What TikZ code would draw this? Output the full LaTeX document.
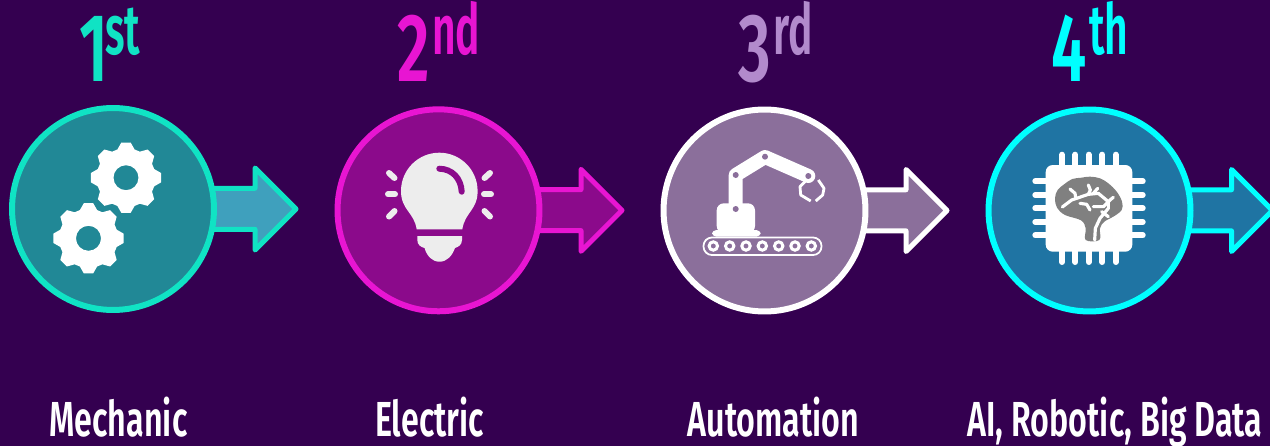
\documentclass[tikz,border=0pt]{standalone}
\usepackage{fontspec}
\newfontfamily\etroite[FakeStretch=0.655]{Fira Sans SemiBold}
\newfontfamily\etroitexp[FakeStretch=0.58]{Fira Sans SemiBold}
\definecolor{fond}{HTML}{340050}
\definecolor{vert}{HTML}{10E3C4}
\definecolor{vertfonce}{HTML}{218896}
\definecolor{bleuclair}{HTML}{3FA0BD}
\definecolor{rose}{HTML}{E815D2}
\definecolor{prune}{HTML}{8B0A8B}
\definecolor{mauve}{HTML}{8B6F9B}
\definecolor{lilas}{HTML}{B28ACC}
\definecolor{cyan}{HTML}{00FFFF}
\definecolor{bleu}{HTML}{1F74A3}
\newcommand{\roue}[2]{%
  \fill[white,even odd rule,shift={(#1,#2)}] (-17:29.5)
    \foreach \a in {0,45,...,315} {
      -- (\a-17:29.5) -- (\a-7.5:35.5) -- (\a+7.5:35.5) -- (\a+17:29.5)
    } -- cycle (0,0) circle (12.5);
}
\begin{document}
\begin{tikzpicture}[
      x=0.02cm,
      y=-0.02cm,
      etape/.style={
        draw,
        circle,
        line width=0.12cm,
        minimum size=4.04cm,
        inner sep=0pt,
        outer sep=0pt
      },
      fleche/.style={
        draw,
        line width=0.1cm,
        line join=round
      },
      chiffre/.style={
        anchor=base west,
        inner sep=0pt,
        font=\etroite\fontsize{55}{55}\selectfont
      },
      exposant/.style={
        anchor=base west,
        inner sep=0pt,
        xshift=1pt,
        yshift=15.6pt,
        font=\etroitexp\fontsize{40}{40}\selectfont
      },
      titre/.style={
        anchor=base,
        text=white,
        inner sep=0pt,
        font=\etroite\fontsize{28}{28}\selectfont
      },
      rayon/.style={
        draw=white!93!black,
        line width=0.12cm,
        line cap=round
      },
      patte/.style={
        draw=white,
        line width=0.12cm,
        line cap=round
      },
      bras/.style={
        draw=white,
        line width=0.28cm,
        line join=round,
        line cap=round
      },
      nerf/.style={
        draw=white,
        line width=1.8pt,
        line cap=round,
        line join=round
      }
    ]
    \fill[fond] (0,0) rectangle (1270,446);
    \useasboundingbox (0,0) rectangle (1270,446);

    \draw[fleche, draw=vert, fill=bleuclair] (200,188.3) -- (255,188.3) -- (255,168) -- (296,209) -- (255,250) -- (255,229.3) -- (200,229.3) -- cycle;
    \draw[fleche, draw=rose, fill=prune] (526,189.6) -- (581,189.6) -- (581,169.3) -- (622,210.3) -- (581,251.3) -- (581,230.6) -- (526,230.6) -- cycle;
    \draw[fleche, draw=white, fill=mauve] (851,189.8) -- (906,189.8) -- (906,169.5) -- (947,210.5) -- (906,251.5) -- (906,230.8) -- (851,230.8) -- cycle;
    \draw[fleche, draw=cyan, fill=bleu] (1176,189.8) -- (1231.5,189.8) -- (1231.5,169.5) -- (1272.5,210.5) -- (1231.5,251.5) -- (1231.5,230.8) -- (1176,230.8) -- cycle;

    \node[etape, draw=vert, fill=vertfonce] (e1) at (113,209) {};
    \node[etape, draw=rose, fill=prune] (e2) at (438.5,210.3) {};
    \node[etape, draw=white, fill=mauve] (e3) at (764.5,210.5) {};
    \node[etape, draw=cyan, fill=bleu] (e4) at (1089.5,210.5) {};

    \node[chiffre, text=vert] (c1) at (79,82) {1};
    \node[exposant, text=vert, xshift=-3pt] (s1) at (c1.base east) {st};
    \node[chiffre, text=rose] (c2) at (397,82) {2};
    \node[exposant, text=rose] (s2) at (c2.base east) {nd};
    \node[chiffre, text=lilas] (c3) at (738,82) {3};
    \node[exposant, text=lilas] (s3) at (c3.base east) {rd};
    \node[chiffre, text=cyan] (c4) at (1051,82) {4};
    \node[exposant, text=cyan] (s4) at (c4.base east) {th};

    \node[titre] (t1) at (118.5,436) {Mechanic};
    \node[titre] (t2) at (429.5,436) {Electric};
    \node[titre] (t3) at (773.5,436) {Automation};
    \node[titre] (t4) at (1115,436) {AI, Robotic, Big Data};

    \roue{126}{177.7}
    \roue{88.5}{238.3}

    \fill[white!93!black] (416.7,229.3) .. controls (414,212) and (401,210) .. (401,191)
      arc[start angle=180, end angle=360, x radius=38.3, y radius=38.3]
      .. controls (477.7,210) and (465,212) .. (462.3,229.3) -- cycle;
    \fill[white!93!black] (417.3,236) -- (462,236) -- (462,240)
      .. controls (462,245) and (458,247) .. (455,248)
      .. controls (452,256) and (447,261.7) .. (439.5,261.7)
      .. controls (432,261.7) and (427,256) .. (424.5,248)
      .. controls (421,247) and (417.3,245) .. (417.3,240) -- cycle;
    \draw[prune, line width=0.12cm, line cap=round] (439.3,168.7)
      .. controls (452,169) and (461,178) .. (461.7,191.7);
    \draw[rayon] (388,194.3) -- (395,194.3);
    \draw[rayon] (389,173) -- (394.5,178);
    \draw[rayon] (389,216.5) -- (394.5,211);
    \draw[rayon] (484,194.3) -- (491,194.3);
    \draw[rayon] (484.5,178) -- (490,173);
    \draw[rayon] (484.5,211) -- (490,216.5);

    \draw[white, line width=1pt, rounded corners=4.8pt] (703.5,237.5) rectangle (821.5,255);
    \foreach \x in {713.3,729.7,746,762.3,778.7,795,811.3} {
      \draw[white, line width=1.7pt, fill=mauve] (\x,246) circle (4.2);
    }
    \fill[white, rounded corners=2.5pt] (712,236.7) -- (712,230) -- (760.7,230) -- (760.7,236.7) -- cycle;
    \fill[white, rounded corners=4pt] (716.7,233) -- (716.7,203.3) -- (755,203.3) -- (755,233) -- cycle;
    \draw[bras] (735.7,205) -- (735.7,175) -- (765,157) -- (808.3,176);
    \fill[mauve] (735.7,209) circle (3);
    \fill[mauve] (735.7,175) circle (3);
    \fill[mauve] (765,156.7) circle (3);
    \fill[mauve] (808.3,176) circle (3);
    \draw[white, line width=1.6pt, line join=round] (806.7,180) -- (800,186.7) -- (800.7,195) -- (810.7,201);
    \draw[white, line width=1.6pt, line join=round] (818.3,180) -- (824,188.3) -- (822.7,195) -- (815.7,201);

    \foreach \x in {1062,1075.3,1088.7,1102.3,1115.7} {
      \draw[patte] (\x,154.7) -- (\x,262);
    }
    \foreach \y in {181.3,195,208.3,222,235.3} {
      \draw[patte] (1035.3,\y) -- (1142.7,\y);
    }
    \fill[white, rounded corners=4pt] (1045.7,165) rectangle (1132.3,251.7);

    \begin{scope}[shift={(1045,165)}, x=0.00667cm, y=-0.00667cm]
      \fill[black!50] plot[smooth cycle, tension=0.6] coordinates {
        (122,225) (122,190) (108,166) (60,150) (36,128) (30,100) (38,75) (60,56)
        (82,42) (110,38) (135,35) (165,40) (190,55) (215,80) (231,110) (230,135)
        (205,155) (178,170) (165,190) (163,225)};
      \fill[black!50] (122,200) rectangle (163,225);
      \draw[nerf] (52,126) -- (80,105) -- (130,88) -- (160,85) -- (190,110) -- (190,130)
        -- (165,160) -- (151,190) -- (149,225);
      \draw[nerf] (130,60) -- (136,75) -- (130,88);
      \draw[nerf] (75,72) -- (90,85) -- (92,97);
      \draw[nerf] (105,115) -- (125,118) -- (135,135);
      \draw[nerf] (158,70) -- (145,85);
      \draw[nerf] (145,125) -- (175,125) -- (195,105) -- (205,97);
      \draw[nerf] (170,140) -- (190,155);
    \end{scope}
  \end{tikzpicture}
\end{document}
